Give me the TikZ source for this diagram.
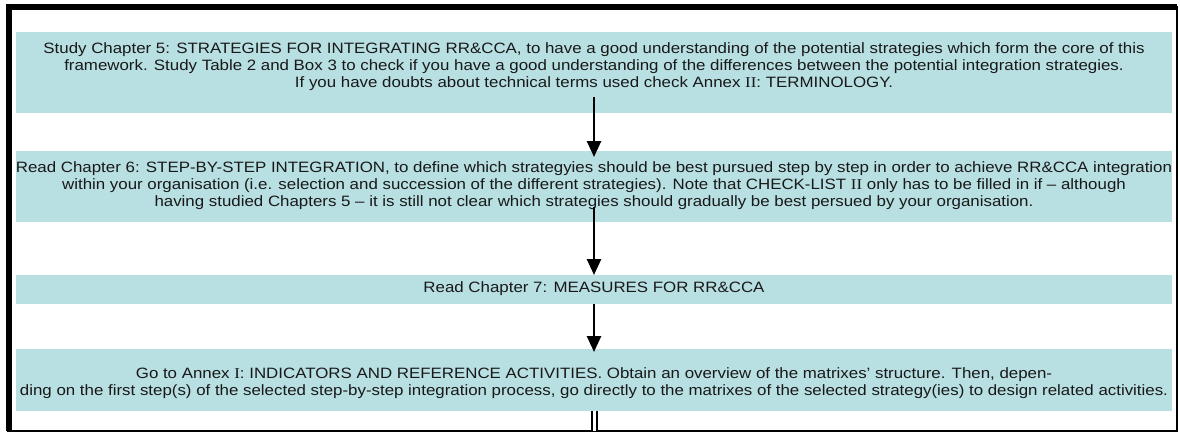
\documentclass[tikz,border=0pt]{standalone}
\usepackage{fontspec}
\setmainfont{Liberation Sans}[FakeStretch=1.125]
\newfontfamily\romfont{Liberation Serif}[FakeStretch=1.125]
\usetikzlibrary{arrows.meta,positioning}
\definecolor{C}{RGB}{184, 223, 226}
\definecolor{T}{RGB}{25, 25, 25}
\newcommand{\rom}[1]{{\romfont #1}}

\tikzset{
  panel/.style={fill=C, minimum width=1156pt, inner sep=0pt, anchor=north},
  txt/.style={align=center, font=\fontsize{15}{17}\selectfont, text=T, inner sep=0pt},
  flow/.style={line width=2.5pt, -{Triangle[length=16pt,width=14pt]}},
}

\begin{document}
\begin{tikzpicture}[x=1pt,y=-1pt]
   \useasboundingbox (0,0) rectangle (1180,434);
   \draw[line width=2.5pt] (8,7) rectangle (1177,431);
   \draw[line width=6pt] (8.5,431) -- (8.5,7) -- (1177,7);

   \node[panel, minimum height=81pt] (p1) at (594,32) {};
   \node[panel, minimum height=71pt] (p2) at (594,151) {};
   \node[panel, minimum height=29pt] (p3) at (594,275) {};
   \node[panel, minimum height=62pt] (p4) at (594,349) {};

   \node[txt] (t1) at (594,67) {Study Chapter 5: STRATEGIES FOR INTEGRATING RR\&CCA, to have a good understanding of the potential strategies which form the core of this\\
   framework. Study Table 2 and Box 3 to check if you have a good understanding of the differences between the potential integration strategies.\\
   If you have doubts about technical terms used check Annex \rom{II}: TERMINOLOGY.};
   \node[txt] (t2) at (594,186) {Read Chapter 6: STEP-BY-STEP INTEGRATION, to define which strategyies should be best pursued step by step in order to achieve RR\&CCA integration\\
   within your organisation (i.e. selection and succession of the different strategies). Note that CHECK-LIST \rom{II} only has to be filled in if – although\\
   having studied Chapters 5 – it is still not clear which strategies should gradually be best persued by your organisation.};
   \node[txt] (t3) at (594,289) {Read Chapter 7: MEASURES FOR RR\&CCA};
   \node[txt] (t4) at (594,383) {Go to Annex \rom{I}: INDICATORS AND REFERENCE ACTIVITIES. Obtain an overview of the matrixes’ structure. Then, depen-\\
   ding on the first step(s) of the selected step-by-step integration process, go directly to the matrixes of the selected strategy(ies) to design related activities.};

   \coordinate (end) at (594,431);
   \draw[flow] ([yshift=-6pt]t1.south) -- ([yshift=-6pt]p2.north);
   \draw[flow] ([yshift=3pt]t2.south) -- (p3.north);
   \draw[flow] (p3.south) -- ([yshift=-3pt]p4.north);
   \draw[double, double distance=3pt, line width=2pt] (p4.south) -- (end);
\end{tikzpicture}
\end{document}
